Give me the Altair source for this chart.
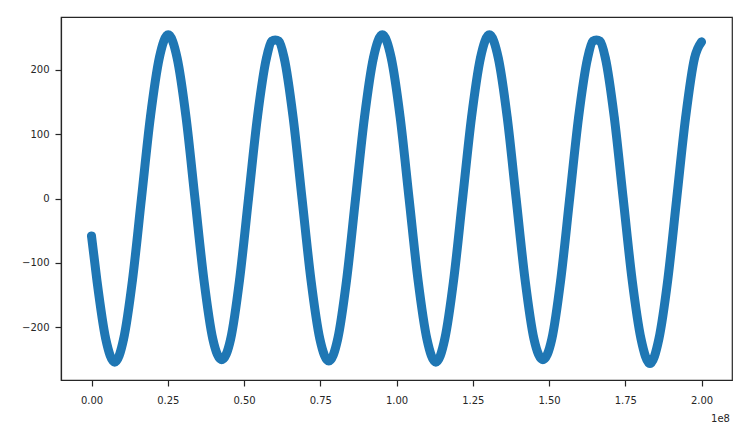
import altair as alt
import pandas as pd

# x positions in units of 1e6, y values
X_MILLIONS = [0, 1.75, 4.675, 7.6, 10.525, 13.45, 16.375, 19.3, 22.225, 25.15,
              28.075, 31.0, 33.925, 36.85, 39.775, 42.7, 45.625, 48.55, 51.475, 54.4,
              57.325, 59.1, 60.25, 61.4, 63.175, 66.1, 69.025, 71.95, 74.875, 77.8,
              80.725, 83.65, 86.575, 89.5, 92.425, 95.35, 98.275, 101.2, 104.125, 107.05,
              109.975, 112.9, 115.825, 118.75, 121.675, 124.6, 127.525, 130.45, 133.375, 136.3,
              139.225, 142.15, 145.075, 148.0, 150.925, 153.85, 156.775, 159.7, 162.625, 164.4,
              165.55, 166.7, 168.475, 171.4, 174.325, 177.25, 180.175, 183.1, 186.025, 188.95,
              191.875, 194.8, 197.725, 200]
Y_VALUES = [-58, -126, -218, -254, -218, -126, 0, 126, 218, 254,
            218, 126, 0, -126, -218, -250, -218, -126, 0, 126,
            217, 244, 246, 244, 218, 126, 0, -126, -218, -252,
            -218, -126, 0, 126, 218, 254, 218, 126, 0, -126,
            -218, -254, -218, -126, 0, 126, 218, 254, 218, 126,
            0, -126, -218, -250, -218, -126, 0, 126, 217, 244,
            246, 244, 218, 126, 0, -126, -218, -256, -218, -126,
            0, 126, 218, 243]

X_TICKS = [0, 2.5e7, 5e7, 7.5e7, 1e8, 1.25e8, 1.5e8, 1.75e8, 2e8]
Y_TICKS = [-200, -100, 0, 100, 200]
OFFSET_LABEL = ["1e8"]

df = pd.DataFrame({"x": [v * 1e6 for v in X_MILLIONS], "y": Y_VALUES})

W, H = 671, 363
BLUE = "#1f77b4"
DARK = "#262626"

xscale = alt.Scale(domain=[-1e7, 2.1e8], nice=False, zero=False)
yscale = alt.Scale(domain=[-281.6, 281.6], nice=False, zero=False)

xaxis = alt.Axis(values=X_TICKS, labelExpr="format(datum.value/1e8, '.2f')",
                 title=None, grid=False, tickSize=6, labelPadding=9)
yaxis = alt.Axis(values=Y_TICKS, format="d", title=None, grid=False,
                 tickSize=6, labelPadding=6)

base = alt.Chart(df).encode(
    x=alt.X("x:Q", scale=xscale, axis=xaxis),
    y=alt.Y("y:Q", scale=yscale, axis=yaxis),
)

band = base.mark_line(color=BLUE, strokeWidth=9, interpolate="monotone",
                      strokeCap="round", strokeJoin="round")
dots = base.mark_circle(color=BLUE, size=60, opacity=1)

offset = alt.Chart(pd.DataFrame({"t": OFFSET_LABEL})).mark_text(
    align="right", baseline="middle", fontSize=10, color=DARK, font="DejaVu Sans"
).encode(x=alt.value(W - 2), y=alt.value(H + 39), text="t:N")

chart = alt.layer(band, dots, offset).properties(
    width=W, height=H, autosize="none",
    padding={"left": 53, "top": 9, "right": 8, "bottom": 56},
).configure_view(
    stroke=DARK, strokeWidth=1.2
).configure_axis(
    domainColor=DARK, domainWidth=1.2, tickColor=DARK, tickWidth=1.2,
    labelColor=DARK, labelFont="DejaVu Sans", labelFontSize=10,
)

chart.save("out.html", embed_options={"renderer": "svg", "actions": False})
